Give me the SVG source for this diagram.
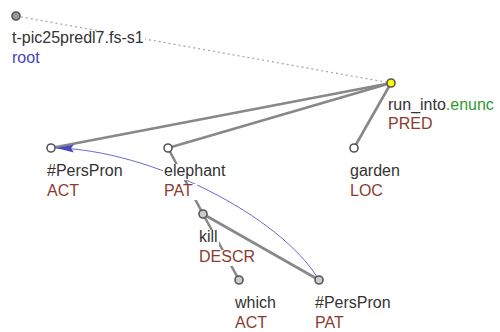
<svg xmlns="http://www.w3.org/2000/svg" width="500" height="332" viewBox="0 0 500 332">
<style>
text{font-family:"Liberation Sans",Arial,sans-serif;font-size:16px;fill:#333}
.f{fill:#8c3b30}
.r{fill:#4444bb}
.g{fill:#2e9a2e}
.bg{fill:#fff}
.n{fill:#fff;stroke:#555;stroke-width:1.6}
.e{stroke:#888;stroke-width:2.6;fill:none;stroke-linecap:round}
</style>
<defs>
<marker id="ah" markerWidth="18" markerHeight="10" refX="18" refY="4" orient="auto" markerUnits="userSpaceOnUse" viewBox="0 0 18 8">
<path d="M18,4 L0,0 L3,4 L0,8 Z" fill="#4848c0"/>
</marker>
</defs>
<g id="connectors">
<line x1="16" y1="16" x2="391" y2="83" stroke="#aaa" stroke-width="1.3" stroke-dasharray="2,3"/>
<line class="e" x1="391" y1="83" x2="51" y2="148"/>
<line class="e" x1="391" y1="83" x2="168" y2="148"/>
<line class="e" x1="391" y1="83" x2="354" y2="148"/>
<line class="e" x1="168" y1="148" x2="203" y2="214"/>
<line class="e" x1="203" y1="214" x2="239" y2="280"/>
<line class="e" x1="203" y1="214" x2="319" y2="280"/>
<path d="M319,280 C280,215 150,150 56,148" fill="none" stroke="#6a6ad0" stroke-width="1" marker-end="url(#ah)"/>
</g>
<g id="root">
<rect class="bg" x="11" y="31" width="134" height="16"/>
<rect class="bg" x="11" y="51" width="30" height="16"/>
<circle cx="16" cy="16" r="4" fill="#999" stroke="#555" stroke-width="1.6"/>
<text x="12" y="43">t-pic25predl7.fs-s1</text>
<text x="12" y="63" class="r">root</text>
</g>
<g id="run_into">
<rect class="bg" x="387" y="98" width="110" height="16"/>
<rect class="bg" x="387" y="117" width="47" height="16"/>
<circle cx="391" cy="83" r="4" fill="#ffff00" stroke="#555" stroke-width="1.6"/>
<text x="388" y="110">run_into<tspan class="g">.enunc</tspan></text>
<text x="388" y="129" class="f">PRED</text>
</g>
<g id="perspron_act">
<rect class="bg" x="46" y="164" width="79" height="16"/>
<rect class="bg" x="46" y="184" width="35" height="16"/>
<circle class="n" cx="51" cy="148" r="4"/>
<text x="47" y="176">#PersPron</text>
<text x="47" y="196" class="f">ACT</text>
</g>
<g id="elephant">
<rect class="bg" x="163" y="164" width="64" height="16"/>
<rect class="bg" x="163" y="184" width="34" height="16"/>
<circle class="n" cx="168" cy="148" r="4"/>
<text x="164" y="176">elephant</text>
<text x="164" y="196" class="f">PAT</text>
</g>
<g id="garden">
<rect class="bg" x="349" y="164" width="53" height="16"/>
<rect class="bg" x="349" y="184" width="36" height="16"/>
<circle class="n" cx="354" cy="148" r="4"/>
<text x="350" y="176">garden</text>
<text x="350" y="196" class="f">LOC</text>
</g>
<g id="kill">
<rect class="bg" x="198" y="230" width="21" height="16"/>
<rect class="bg" x="198" y="250" width="59" height="16"/>
<circle cx="203" cy="214" r="4" fill="#ccc" stroke="#555" stroke-width="1.6"/>
<text x="199" y="242">kill</text>
<text x="199" y="262" class="f">DESCR</text>
</g>
<g id="which">
<rect class="bg" x="234" y="296" width="44" height="16"/>
<rect class="bg" x="234" y="316" width="35" height="16"/>
<circle cx="239" cy="280" r="4" fill="#ccc" stroke="#555" stroke-width="1.6"/>
<text x="235" y="308">which</text>
<text x="235" y="328" class="f">ACT</text>
</g>
<g id="perspron_pat">
<rect class="bg" x="314" y="296" width="79" height="16"/>
<rect class="bg" x="314" y="316" width="34" height="16"/>
<circle cx="319" cy="280" r="4" fill="#ccc" stroke="#555" stroke-width="1.6"/>
<text x="315" y="308">#PersPron</text>
<text x="315" y="328" class="f">PAT</text>
</g>
</svg>
